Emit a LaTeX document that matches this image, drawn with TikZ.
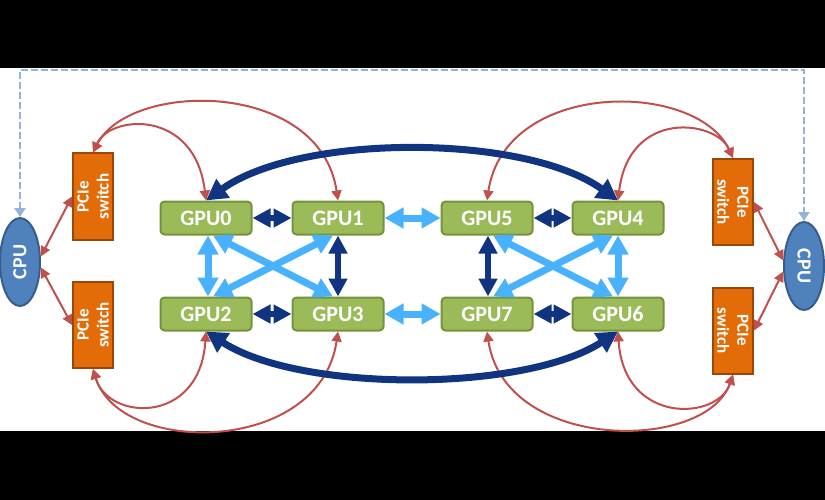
\documentclass[tikz,border=0pt]{standalone}
\usepackage{fontspec}
\setmainfont{Carlito}
\usetikzlibrary{arrows.meta,shapes.geometric}

\definecolor{gpugreen}{RGB}{155,187,89}
\definecolor{gpuedge}{RGB}{118,146,60}
\definecolor{cpublue}{RGB}{79,129,189}
\definecolor{cpuedge}{RGB}{56,93,138}
\definecolor{pcieorange}{RGB}{227,108,9}
\definecolor{pcieedge}{RGB}{152,72,7}
\definecolor{nvdark}{RGB}{16,52,128}
\definecolor{nvlight}{RGB}{72,178,255}
\definecolor{pcieline}{RGB}{192,80,77}
\definecolor{qpiline}{RGB}{149,179,215}

\tikzset{
  gpu/.style={draw=gpuedge, fill=gpugreen, line width=2pt, rounded corners=4pt,
    minimum width=91pt, minimum height=33pt, inner sep=0pt, text=white,
    font=\fontsize{22}{24}\selectfont\bfseries},
  cpu/.style={ellipse, draw=cpuedge, fill=cpublue, line width=2pt,
    minimum width=88pt, minimum height=40pt, inner sep=0pt, text=white,
    font=\fontsize{20}{22}\selectfont\bfseries},
  pcie/.style={draw=pcieedge, fill=pcieorange, line width=2pt,
    minimum width=86pt, minimum height=40pt, inner sep=0pt, text=white,
    align=center, font=\fontsize{17}{20}\selectfont\bfseries},
  nvlink/.style={draw=nvdark, line width=6pt, >={Triangle[length=18pt,width=18pt]}, <->},
  nvlong/.style={draw=nvdark, line width=7pt, >={Triangle[length=21pt,width=22pt]}, <->},
  nvpair/.style={draw=nvlight, line width=7pt, >={Triangle[length=19pt,width=20pt]}, <->},
  pcielink/.style={draw=pcieline, line width=2pt, >={Triangle[length=10pt,width=10pt]}, <->},
  qpi/.style={draw=qpiline, line width=2.7pt, dash pattern=on 7pt off 3pt,
    >={Triangle[length=9pt,width=11pt]}, <->}
}

\begin{document}
\begin{tikzpicture}[x=1pt,y=1pt]
  \useasboundingbox (0,0) rectangle (825,-500);
  \fill[black] (0,0) rectangle (825,-68);
  \fill[black] (0,-431) rectangle (825,-500);

  % GPUs
  \node[gpu] (gpu0) at (206,-218) {GPU0};
  \node[gpu] (gpu1) at (338,-218) {GPU1};
  \node[gpu] (gpu5) at (487,-218) {GPU5};
  \node[gpu] (gpu4) at (618,-218) {GPU4};
  \node[gpu] (gpu2) at (206,-314) {GPU2};
  \node[gpu] (gpu3) at (338,-314) {GPU3};
  \node[gpu] (gpu7) at (487,-314) {GPU7};
  \node[gpu] (gpu6) at (618,-314) {GPU6};

  % CPUs and switches (rotated, so .east of a left one is its top)
  \node[cpu,rotate=90] (cpuL) at (20,-262) {CPU};
  \node[cpu,rotate=-90] (cpuR) at (804,-266) {CPU};
  \node[pcie,rotate=90] (pcieLT) at (93,-196.5) {PCIe\\switch};
  \node[pcie,rotate=90] (pcieLB) at (93,-325) {PCIe\\switch};
  \node[pcie,rotate=-90] (pcieRT) at (733,-202) {PCIe\\switch};
  \node[pcie,rotate=-90] (pcieRB) at (733,-330.5) {PCIe\\switch};

  % CPU to CPU
  \coordinate (qpiL) at (20,-70);
  \coordinate (qpiR) at (804,-70);
  \draw[qpi] (cpuL.east) -- (qpiL) -- (qpiR) -- (cpuR.west);

  % PCIe
  \draw[pcielink] (pcieLT.north) -- (cpuL.-75);
  \draw[pcielink] (pcieLB.north) -- (cpuL.-105);
  \draw[pcielink] (pcieRT.north) -- (cpuR.255);
  \draw[pcielink] (pcieRB.north) -- (cpuR.285);
  \draw[pcielink] (pcieLT.east) .. controls +(17,38) and +(-11,92) .. (gpu0.north);
  \draw[pcielink] (pcieLT.east) .. controls +(37,72) and +(-18,121) .. (gpu1.north);
  \draw[pcielink] (pcieLB.west) .. controls +(15,-52) and +(-6,-94) .. (gpu2.south);
  \draw[pcielink] (pcieLB.west) .. controls +(27,-87) and +(-18,-124) .. (gpu3.south);
  \draw[pcielink] (pcieRT.west) .. controls +(-17,38) and +(11,92) .. (gpu4.north);
  \draw[pcielink] (pcieRT.west) .. controls +(-37,78) and +(18,121) .. (gpu5.north);
  \draw[pcielink] (pcieRB.east) .. controls +(-15,-46) and +(6,-94) .. (gpu6.south);
  \draw[pcielink] (pcieRB.east) .. controls +(-27,-78) and +(18,-121) .. (gpu7.south);

  % NVLink
  \draw[nvlink] (gpu0) -- (gpu1);
  \draw[nvlink] (gpu2) -- (gpu3);
  \draw[nvlink] (gpu5) -- (gpu4);
  \draw[nvlink] (gpu7) -- (gpu6);
  \draw[nvlink] (gpu1.south) -- (gpu3.north);
  \draw[nvlink] ([xshift=1]gpu5.south) -- ([xshift=1]gpu7.north);
  \draw[nvpair] (gpu1) -- (gpu5);
  \draw[nvpair] (gpu3) -- (gpu7);
  \draw[nvpair] ([xshift=2]gpu0.south) -- ([xshift=2]gpu2.north);
  \draw[nvpair] (gpu4.south) -- (gpu6.north);
  \draw[nvpair] ([xshift=7]gpu0.south) -- ([xshift=-5]gpu3.north);
  \draw[nvpair] ([xshift=-5]gpu1.south) -- ([xshift=7]gpu2.north);
  \draw[nvpair] ([xshift=6]gpu5.south) -- ([xshift=-5]gpu6.north);
  \draw[nvpair] ([xshift=-5]gpu4.south) -- ([xshift=6]gpu7.north);
  \draw[nvlong] (gpu0.north) .. controls +(94,67) and +(-94,67) .. (gpu4.north);
  \draw[nvlong] (gpu2.south) .. controls +(94,-61) and +(-94,-61) .. (gpu6.south);
\end{tikzpicture}
\end{document}
